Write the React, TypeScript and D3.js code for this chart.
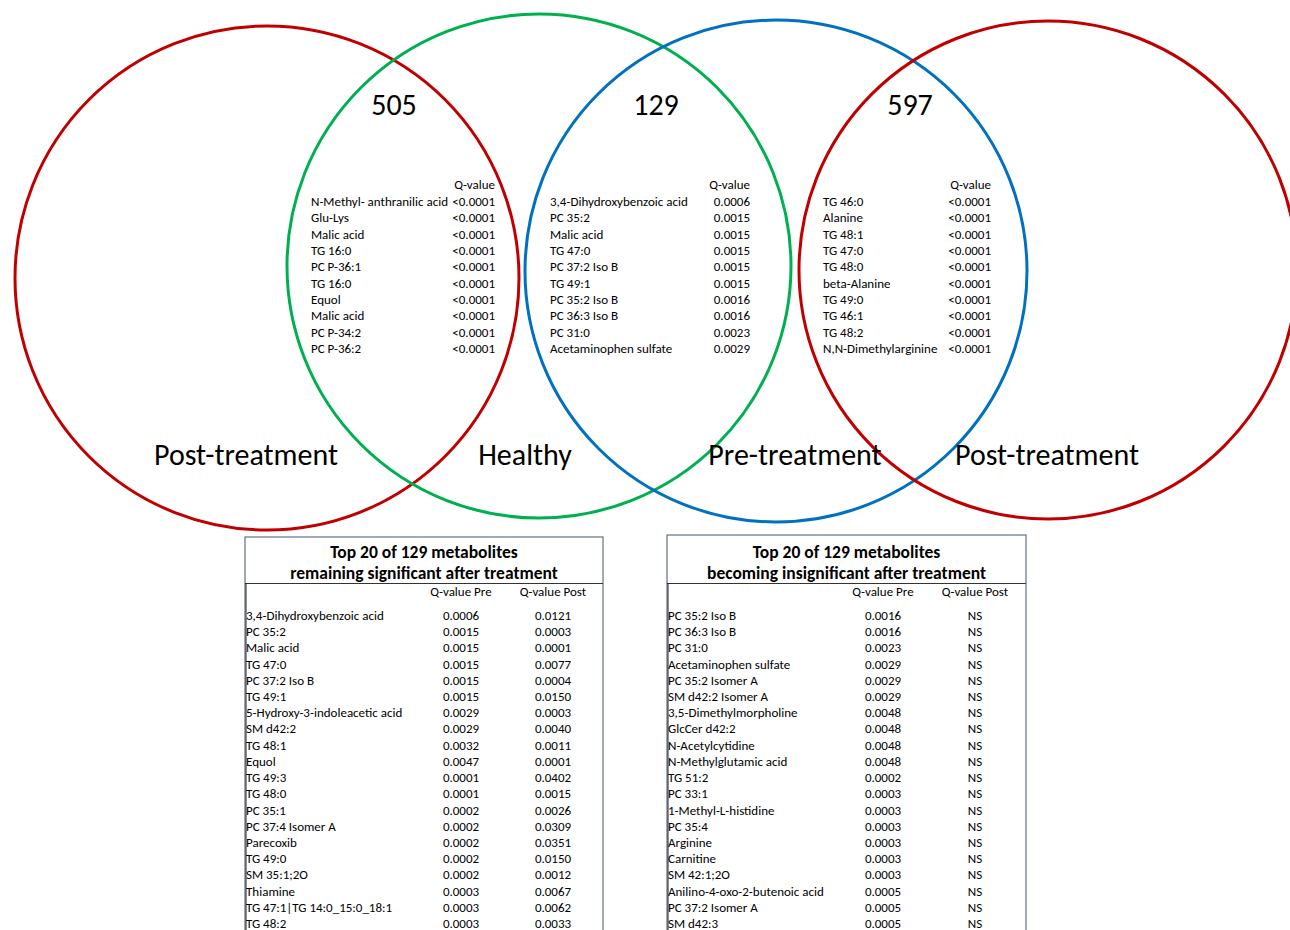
import * as d3 from "d3";

// Venn sets, left to right (the outer red set is drawn twice)
const setLabels = ["Post-treatment", "Healthy", "Pre-treatment", "Post-treatment"];
const setColors = ["#C00000", "#00B050", "#0070C0", "#C00000"];
const overlapCounts = [505, 129, 597];

// overlap lists shown inside the Venn diagram
const postHealthyNames = [
  "N-Methyl- anthranilic acid", "Glu-Lys", "Malic acid", "TG 16:0", "PC P-36:1",
  "TG 16:0", "Equol", "Malic acid", "PC P-34:2", "PC P-36:2",
];
const postHealthyQ = Array(10).fill("<0.0001");

const healthyPreNames = [
  "3,4-Dihydroxybenzoic acid", "PC 35:2", "Malic acid", "TG 47:0", "PC 37:2 Iso B",
  "TG 49:1", "PC 35:2 Iso B", "PC 36:3 Iso B", "PC 31:0", "Acetaminophen sulfate",
];
const healthyPreQ = [
  "0.0006", "0.0015", "0.0015", "0.0015", "0.0015",
  "0.0015", "0.0016", "0.0016", "0.0023", "0.0029",
];

const prePostNames = [
  "TG 46:0", "Alanine", "TG 48:1", "TG 47:0", "TG 48:0",
  "beta-Alanine", "TG 49:0", "TG 46:1", "TG 48:2", "N,N-Dimethylarginine",
];
const prePostQ = Array(10).fill("<0.0001");

// bottom tables
const remainingNames = [
  "3,4-Dihydroxybenzoic acid", "PC 35:2", "Malic acid", "TG 47:0", "PC 37:2 Iso B",
  "TG 49:1", "5-Hydroxy-3-indoleacetic acid", "SM d42:2", "TG 48:1", "Equol",
  "TG 49:3", "TG 48:0", "PC 35:1", "PC 37:4 Isomer A", "Parecoxib",
  "TG 49:0", "SM 35:1;2O", "Thiamine", "TG 47:1|TG 14:0_15:0_18:1", "TG 48:2",
];
const remainingPre = [
  "0.0006", "0.0015", "0.0015", "0.0015", "0.0015",
  "0.0015", "0.0029", "0.0029", "0.0032", "0.0047",
  "0.0001", "0.0001", "0.0002", "0.0002", "0.0002",
  "0.0002", "0.0002", "0.0003", "0.0003", "0.0003",
];
const remainingPost = [
  "0.0121", "0.0003", "0.0001", "0.0077", "0.0004",
  "0.0150", "0.0003", "0.0040", "0.0011", "0.0001",
  "0.0402", "0.0015", "0.0026", "0.0309", "0.0351",
  "0.0150", "0.0012", "0.0067", "0.0062", "0.0033",
];

const insignificantNames = [
  "PC 35:2 Iso B", "PC 36:3 Iso B", "PC 31:0", "Acetaminophen sulfate", "PC 35:2 Isomer A",
  "SM d42:2 Isomer A", "3,5-Dimethylmorpholine", "GlcCer d42:2", "N-Acetylcytidine", "N-Methylglutamic acid",
  "TG 51:2", "PC 33:1", "1-Methyl-L-histidine", "PC 35:4", "Arginine",
  "Carnitine", "SM 42:1;2O", "Anilino-4-oxo-2-butenoic acid", "PC 37:2 Isomer A", "SM d42:3",
];
const insignificantPre = [
  "0.0016", "0.0016", "0.0023", "0.0029", "0.0029",
  "0.0029", "0.0048", "0.0048", "0.0048", "0.0048",
  "0.0002", "0.0003", "0.0003", "0.0003", "0.0003",
  "0.0003", "0.0003", "0.0005", "0.0005", "0.0005",
];
const insignificantPost = Array(20).fill("NS");

const FONT = "Carlito, Calibri, Lato, 'Open Sans', sans-serif";
const W = 1290;
const H = 930;

// circle layout
const circles = [
  { cx: 267, cy: 278, r: 252 },
  { cx: 539, cy: 266, r: 252 },
  { cx: 776, cy: 271, r: 251 },
  { cx: 1048, cy: 270, r: 249 },
];
const labelX = [246, 525, 795, 1047];
const countX = [394, 656, 910];

function VennList({ names, values, x0, x1 }: { names: string[]; values: string[]; x0: number; x1: number }) {
  const y = d3.scaleLinear().domain([0, names.length - 1]).range([206, 353]);
  return (
    <g fontSize={13} fontFamily={FONT}>
      <text x={x1} y={189} textAnchor="end">Q-value</text>
      {names.map((n, i) => (
        <g key={i}>
          <text x={x0} y={y(i)}>{n}</text>
          <text x={x1} y={y(i)} textAnchor="end">{values[i]}</text>
        </g>
      ))}
    </g>
  );
}

function BottomTable({
  left, right, top, title, names, pre, post, preX, postX,
}: {
  left: number; right: number; top: number; title: string[]; names: string[];
  pre: string[]; post: string[]; preX: number; postX: number;
}) {
  const y = d3.scaleLinear().domain([0, names.length - 1]).range([620, 928]);
  const cx = (left + right) / 2;
  return (
    <g fontFamily={FONT}>
      <rect x={left} y={top} width={right - left} height={H - top + 20} fill="white" stroke="#44546A" strokeWidth={1} />
      <line x1={left} x2={right} y1={583.5} y2={583.5} stroke="#333" strokeWidth={1} />
      <line x1={left + 1} x2={left + 1} y1={583} y2={H} stroke="#222" strokeWidth={1} />
      <text x={cx} y={558} textAnchor="middle" fontSize={17.5} fontWeight="bold">{title[0]}</text>
      <text x={cx} y={579} textAnchor="middle" fontSize={17.5} fontWeight="bold">{title[1]}</text>
      <g fontSize={13}>
        <text x={preX} y={596} textAnchor="middle">Q-value Pre</text>
        <text x={postX} y={596} textAnchor="middle">Q-value Post</text>
        {names.map((n, i) => (
          <g key={i}>
            <text x={left + 1} y={y(i)}>{n}</text>
            <text x={preX} y={y(i)} textAnchor="middle">{pre[i]}</text>
            <text x={postX} y={y(i)} textAnchor="middle">{post[i]}</text>
          </g>
        ))}
      </g>
    </g>
  );
}

export default function App() {
  return (
    <svg width={W} height={H} style={{ position: "absolute", left: 0, top: 0, background: "white" }}>
      {circles.map((c, i) => (
        <circle key={i} cx={c.cx} cy={c.cy} r={c.r} fill="none" stroke={setColors[i]} strokeWidth={3} />
      ))}
      <g fontFamily={FONT} fontSize={30} textAnchor="middle">
        {overlapCounts.map((v, i) => (
          <text key={i} x={countX[i]} y={115}>{d3.format("d")(v)}</text>
        ))}
        {setLabels.map((l, i) => (
          <text key={i} x={labelX[i]} y={465}>{l}</text>
        ))}
      </g>
      <VennList names={postHealthyNames} values={postHealthyQ} x0={311} x1={495} />
      <VennList names={healthyPreNames} values={healthyPreQ} x0={550} x1={750} />
      <VennList names={prePostNames} values={prePostQ} x0={823} x1={991} />
      <BottomTable
        left={245} right={603} top={537}
        title={["Top 20 of 129 metabolites", "remaining significant after treatment"]}
        names={remainingNames} pre={remainingPre} post={remainingPost}
        preX={461} postX={553}
      />
      <BottomTable
        left={667} right={1026} top={535}
        title={["Top 20 of 129 metabolites", "becoming insignificant after treatment"]}
        names={insignificantNames} pre={insignificantPre} post={insignificantPost}
        preX={883} postX={975}
      />
    </svg>
  );
}
